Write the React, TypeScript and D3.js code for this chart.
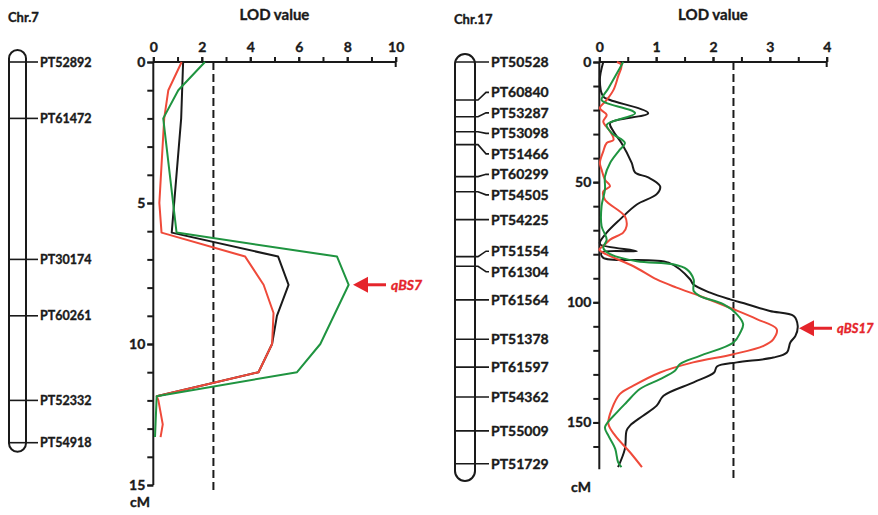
import React, { useRef, useEffect } from 'react';
import * as d3 from 'd3';

// Chr.7 linkage map
const chr7Markers = ['PT52892', 'PT61472', 'PT30174', 'PT60261', 'PT52332', 'PT54918'];
const chr7MarkerCM = [0, 2, 7, 9, 12, 13.5];

// Chr.7 LOD profiles (cM, LOD)
const chr7BlackCM = [0, 2, 6.05, 6.9, 7.9, 9, 10, 11, 11.85];
const chr7BlackLOD = [1.23, 1.15, 0.76, 5.15, 5.58, 5.1, 4.9, 4.34, 0.14];
const chr7RedCM = [0, 1, 2, 5, 6.05, 6.9, 7.9, 8.9, 10, 11, 11.85, 12, 12.85, 13.3];
const chr7RedLOD = [1.17, 0.62, 0.45, 0.25, 0.34, 3.79, 4.55, 4.96, 4.9, 4.34, 0.14, 0.21, 0.39, 0.3];
const chr7GreenCM = [0, 1, 2, 6.05, 6.9, 7.9, 10, 11, 11.85, 13.3];
const chr7GreenLOD = [2.13, 1.03, 0.41, 0.96, 7.58, 8.06, 6.89, 5.93, 0.14, 0.07];

// Chr.17 linkage map
const chr17Markers = ['PT50528', 'PT60840', 'PT53287', 'PT53098', 'PT51466', 'PT60299', 'PT54505', 'PT54225',
  'PT51554', 'PT61304', 'PT61564', 'PT51378', 'PT61597', 'PT54362', 'PT55009', 'PT51729'];
const chr17MarkerCM = [0, 15.8, 22.8, 29, 34.4, 47.7, 54, 65.6, 81, 85, 99, 115.4, 127, 139.4, 153.5, 167.2];

// Chr.17 LOD profiles
const chr17BlackCM = [0, 7.5, 14.4, 15.8, 21.3, 25.4, 28.9, 33.7, 42, 46, 48, 51.7, 55, 59.3, 65.6, 71, 75, 76, 78.7, 79.3,
  81.5, 83.5, 90.5, 92.5, 96, 98.8, 100.8, 103.6, 105.7, 109.8, 114, 116.7, 120.9, 123, 125, 126.7, 129.2, 133.3, 138.9,
  143, 147.2, 151.3, 153.4, 161, 168.6];
const chr17BlackLOD = [0.07, 0.01, 0.07, 0.19, 0.86, 0.19, 0.25, 0.39, 0.57, 0.63, 0.86, 1.07, 1.01, 0.66, 0.36, 0.13, 0.01, 0.02, 0.66, 0.04,
  0.07, 1.22, 1.6, 1.65, 1.95, 2.3, 2.6, 3.0, 3.42, 3.49, 3.45, 3.36, 3.3, 3.06, 2.42, 2.07, 2.02, 1.66, 1.13,
  1.01, 0.77, 0.54, 0.48, 0.45, 0.33];
const chr17RedCM = [0, 1.2, 6.1, 11.6, 15.8, 19.2, 22, 24.8, 28.9, 32.4, 33.7, 37.2, 42, 44.8, 49, 51.7, 53.8, 57.3, 64.2, 68.3,
  71, 73.9, 76.6, 78, 79.4, 85, 90.5, 93.9, 97.4, 102.9, 107, 111.2, 115.4, 118.1, 121.6, 125, 129.2, 134.7, 138.2, 144.4,
  150.6, 155.5, 162.4, 168.6];
const chr17RedLOD = [0.31, 0.39, 0.33, 0.25, 0.13, 0.01, 0.13, 0.07, 0.19, 0.25, 0.13, 0.07, 0.01, 0.04, 0.1, 0.19, 0.07, 0.1, 0.45, 0.48,
  0.42, 0.19, 0.07, 0.0, 0.07, 0.6, 1.01, 1.36, 1.77, 2.36, 2.77, 3.12, 3.06, 2.89, 2.36, 1.65, 1.07, 0.6, 0.36, 0.22,
  0.16, 0.28, 0.54, 0.75];
const chr17GreenCM = [0, 4.7, 10.9, 15.8, 17.1, 21.3, 26.1, 29.6, 33.7, 36.5, 42, 47.6, 53, 60, 68.3, 73.9, 77.3, 80, 82.9,
  84.2, 86.3, 90.5, 95.3, 97.4, 100.8, 105, 109.1, 112.6, 116.7, 122.3, 125.7, 128.5, 132, 136, 141.6, 145.8, 152, 155.5,
  161, 166.5, 168.6];
const chr17GreenLOD = [0.42, 0.31, 0.16, 0.04, 0.13, 0.63, 0.13, 0.22, 0.45, 0.36, 0.19, 0.1, 0.1, 0.04, 0.04, 0.13, 0.07, 0.19, 0.66,
  1.3, 1.54, 1.66, 1.66, 1.77, 2.18, 2.42, 2.53, 2.48, 2.36, 1.77, 1.42, 1.33, 1.07, 0.72, 0.48, 0.31, 0.1, 0.16,
  0.28, 0.33, 0.39];

const chr7Threshold = 2.48, chr17Threshold = 2.36;
const chr7Peak = 7.9, chr17Peak = 110.8;

const BLACK = '#1a1a1a', RED = '#ef4a3a', GREEN = '#1f9440', ARROW = '#e5252b';
const FONT = 'Lato, "Open Sans", sans-serif';

function spread(ys: number[], gap: number) {
  const out = ys.slice();
  for (let it = 0; it < 300; it++) {
    for (let i = 1; i < out.length; i++) {
      const d = out[i] - out[i - 1];
      if (d < gap) {
        const s = (gap - d) / 2;
        out[i - 1] -= s;
        out[i] += s;
      }
    }
  }
  return out;
}

export default function App() {
  const ref = useRef<SVGSVGElement>(null);
  const width = 878, height = 515;

  useEffect(() => {
    const svg = d3.select(ref.current);
    svg.selectAll('*').remove();

    // heavier text, closer to the bold face of the original
    const bold = (t: any, color: string) => t.attr('font-family', FONT).attr('font-weight', 'bold')
      .attr('fill', color).attr('stroke', color).attr('stroke-width', 0.35);

    const panel = (opts: any) => {
      const { x, y, ticksMajor, ticksMinor, yMajor, yMinor, series, threshold, peak, label, yEnd } = opts;
      const g = svg.append('g');

      // top axis
      const xa = g.append('g').attr('transform', `translate(0,${y.range()[0]})`)
        .call(d3.axisTop(x).tickValues(ticksMinor).tickSize(5).tickFormat(() => ''));
      g.append('g').attr('transform', `translate(0,${y.range()[0]})`)
        .call(d3.axisTop(x).tickValues(ticksMajor).tickSize(5).tickPadding(5).tickFormat(d3.format('d')))
        .call(a => a.select('.domain').remove());
      xa.select('.domain').attr('d', `M${x.range()[0]},0H${x.range()[1]}V5`);

      // left axis
      const ya = g.append('g').attr('transform', `translate(${x.range()[0]},0)`)
        .call(d3.axisLeft(y).tickValues(yMinor).tickSize(6).tickFormat(() => ''));
      g.append('g').attr('transform', `translate(${x.range()[0]},0)`)
        .call(d3.axisLeft(y).tickValues(yMajor).tickSize(6).tickPadding(2).tickFormat(d3.format('d')))
        .call(a => a.select('.domain').remove());
      ya.select('.domain').attr('d', `M0,${y.range()[0]}V${y.range()[1]}`);

      g.selectAll('.domain, .tick line').attr('stroke', BLACK).attr('stroke-width', 2);
      bold(g.selectAll('.tick text'), BLACK).attr('font-size', 14);

      bold(g.append('text').attr('x', (x.range()[0] + x.range()[1]) / 2).attr('y', 20)
        .attr('text-anchor', 'middle').attr('font-size', 15), BLACK).text('LOD value');

      g.append('line')
        .attr('x1', x(threshold)).attr('x2', x(threshold))
        .attr('y1', y.range()[0]).attr('y2', yEnd)
        .attr('stroke', BLACK).attr('stroke-width', 2).attr('stroke-dasharray', '8,4');

      series.forEach((s: any) => {
        const pts = s.cm.map((c: number, i: number) => [c, s.lod[i]] as [number, number]);
        const line = d3.line<[number, number]>().x(d => x(d[1])).y(d => y(d[0])).curve(opts.curve);
        g.append('path').attr('d', line(pts)).attr('fill', 'none')
          .attr('stroke', s.color).attr('stroke-width', 2).attr('stroke-linejoin', 'round');
      });

      // arrow + QTL name
      const ay = y(peak);
      const ax = opts.arrowX;
      g.append('line').attr('x1', ax + 12).attr('x2', ax + 33).attr('y1', ay).attr('y2', ay)
        .attr('stroke', ARROW).attr('stroke-width', 3);
      g.append('path').attr('d', `M${ax},${ay}L${ax + 15},${ay - 8}L${ax + 15},${ay + 8}Z`).attr('fill', ARROW);
      bold(g.append('text').attr('x', ax + 38).attr('y', ay + 5)
        .attr('font-style', 'italic').attr('font-size', opts.labelSize), ARROW).text(label);

      bold(g.append('text').attr('x', opts.cmX).attr('y', opts.cmY).attr('font-size', 14), BLACK).text('cM');
    };

    const chromosome = (opts: any) => {
      const { x0, w, top, bottom, names, ys, labelX, fontSize, gap, title, titleY } = opts;
      const g = svg.append('g');
      bold(g.append('text').attr('x', x0 - 1).attr('y', titleY).attr('font-size', 13), BLACK).text(title);
      g.append('rect').attr('x', x0).attr('y', top).attr('width', w).attr('height', bottom - top)
        .attr('rx', w / 2).attr('ry', w / 2)
        .attr('fill', 'none').attr('stroke', BLACK).attr('stroke-width', 2);
      const ly = spread(ys, gap);
      names.forEach((n: string, i: number) => {
        const y = ys[i];
        const yl = ly[i];
        const xr = x0 + w;
        g.append('path')
          .attr('d', `M${x0},${y}H${xr + 3}L${labelX - 5},${yl}H${labelX - 2}`)
          .attr('fill', 'none').attr('stroke', BLACK).attr('stroke-width', 1.6);
        bold(g.append('text').attr('x', labelX).attr('y', yl).attr('dy', '0.36em')
          .attr('font-size', fontSize), BLACK).text(n);
      });
    };

    // ---- Chr.7 ----
    const x7 = d3.scaleLinear().domain([0, 10]).range([153.3, 395.7]);
    const y7 = d3.scaleLinear().domain([0, 15]).range([62, 485]);
    chromosome({
      x0: 9, w: 17, top: y7(0) - 12, bottom: y7(13.5) + 9,
      names: chr7Markers, ys: chr7MarkerCM.map(c => y7(c)), labelX: 40, fontSize: 12.5, gap: 10,
      title: 'Chr.7', titleY: 22,
    });
    panel({
      x: x7, y: y7,
      ticksMajor: d3.range(0, 11, 2), ticksMinor: d3.range(0, 11, 1),
      yMajor: [0, 5, 10, 15], yMinor: d3.range(0, 16, 1),
      series: [
        { cm: chr7BlackCM, lod: chr7BlackLOD, color: BLACK },
        { cm: chr7RedCM, lod: chr7RedLOD, color: RED },
        { cm: chr7GreenCM, lod: chr7GreenLOD, color: GREEN },
      ],
      threshold: chr7Threshold, peak: chr7Peak, label: 'qBS7', labelSize: 14, arrowX: 353, yEnd: 492,
      cmX: 130, cmY: 507, curve: d3.curveLinear,
    });

    // ---- Chr.17 ----
    const x17 = d3.scaleLinear().domain([0, 4]).range([599.3, 826.7]);
    const y17 = d3.scaleLinear().domain([0, 169.5]).range([62, 469.3]);
    chromosome({
      x0: 455, w: 20, top: 54, bottom: 481,
      names: chr17Markers, ys: chr17MarkerCM.map(c => y17(c)), labelX: 491, fontSize: 14, gap: 20.5,
      title: 'Chr.17', titleY: 24,
    });
    panel({
      x: x17, y: y17,
      ticksMajor: d3.range(0, 5, 1), ticksMinor: d3.range(0, 4.01, 0.5),
      yMajor: [0, 50, 100, 150], yMinor: d3.range(0, 170, 10),
      series: [
        { cm: chr17BlackCM, lod: chr17BlackLOD, color: BLACK },
        { cm: chr17RedCM, lod: chr17RedLOD, color: RED },
        { cm: chr17GreenCM, lod: chr17GreenLOD, color: GREEN },
      ],
      threshold: chr17Threshold, peak: chr17Peak, label: 'qBS17', labelSize: 13, arrowX: 799, yEnd: 478,
      cmX: 571, cmY: 492, curve: d3.curveCatmullRom.alpha(0.5),
    });
  }, []);

  return (
    <div style={{ position: 'absolute', left: 0, top: 0 }}>
      <svg width={width} height={height} ref={ref} style={{ display: 'block', background: '#fff' }} />
    </div>
  );
}
